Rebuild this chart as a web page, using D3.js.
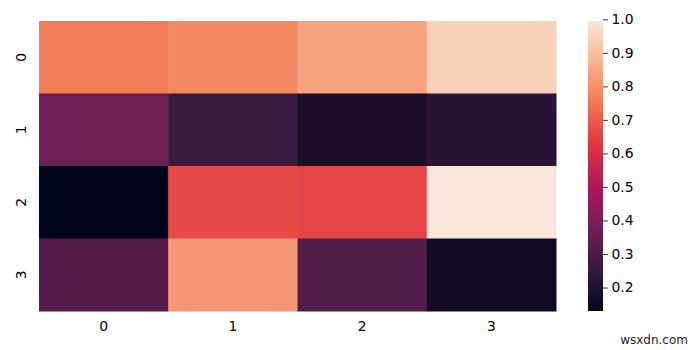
<!DOCTYPE html>
<html>
<head>
<meta charset="utf-8">
<script src="https://cdn.jsdelivr.net/npm/d3@7"></script>
<style>
  body { margin: 0; background: #fff; }
  text { font-family: "DejaVu Sans", sans-serif; }
</style>
</head>
<body>
<svg id="chart" width="700" height="350"></svg>
<script>
// heatmap data (rows x cols)
var rowLabels = ["0", "1", "2", "3"];
var colLabels = ["0", "1", "2", "3"];
var row0 = [0.765, 0.785, 0.84, 0.94];
var row1 = [0.37, 0.265, 0.19, 0.225];
var row2 = [0.13, 0.665, 0.655, 0.995];
var row3 = [0.32, 0.815, 0.31, 0.17];
var cbTicks = [0.2, 0.3, 0.4, 0.5, 0.6, 0.7, 0.8, 0.9, 1.0];

// seaborn "rocket" colormap, sampled
var rocketStops = ["#03051a", "#35193e", "#701f57", "#ad1759", "#e13342", "#f37651", "#f6b48f", "#f9e6d8"];

var rows = [row0, row1, row2, row3];
var cells = [];
rows.forEach(function(r, i) {
	r.forEach(function(v, j) { cells.push({row: i, col: j, value: v}); });
});

var vmin = d3.min(cells, function(d) { return d.value; });
var vmax = d3.max(cells, function(d) { return d.value; });

var rocket = d3.scaleLinear()
	.domain(d3.range(rocketStops.length).map(function(i) { return i / (rocketStops.length - 1); }))
	.range(rocketStops)
	.interpolate(d3.interpolateRgb);
var color = function(v) { return rocket((v - vmin) / (vmax - vmin)); };

var svg = d3.select('#chart');

var x = d3.scaleBand().domain(colLabels).range([39, 556]);
var y = d3.scaleBand().domain(rowLabels).range([21, 311]);

// cells
svg.append('g').selectAll('rect')
	.data(cells)
	.enter()
	.append('rect')
	.attr('x', function(d) { return x(colLabels[d.col]); })
	.attr('y', function(d) { return y(rowLabels[d.row]); })
	.attr('width', x.bandwidth() + 0.5)
	.attr('height', y.bandwidth() + 0.5)
	.attr('fill', function(d) { return color(d.value); });

// x tick labels
svg.append('g').selectAll('text')
	.data(colLabels)
	.enter()
	.append('text')
	.attr('x', function(d) { return x(d) + x.bandwidth() / 2; })
	.attr('y', 331)
	.attr('text-anchor', 'middle')
	.attr('font-size', '13.9px')
	.attr('fill', '#000')
	.text(function(d) { return d; });

// y tick labels, rotated
svg.append('g').selectAll('text')
	.data(rowLabels)
	.enter()
	.append('text')
	.attr('transform', function(d) {
		return 'translate(26,' + (y(d) + y.bandwidth() / 2) + ') rotate(-90)';
	})
	.attr('text-anchor', 'middle')
	.attr('font-size', '13.9px')
	.attr('fill', '#000')
	.text(function(d) { return d; });

// colorbar
var cbX = 588, cbW = 15, cbTop = 21, cbBottom = 311;
var defs = svg.append('defs');
var grad = defs.append('linearGradient')
	.attr('id', 'cbgrad')
	.attr('x1', 0).attr('y1', 1).attr('x2', 0).attr('y2', 0);
grad.selectAll('stop')
	.data(rocketStops)
	.enter()
	.append('stop')
	.attr('offset', function(d, i) { return (i / (rocketStops.length - 1) * 100) + '%'; })
	.attr('stop-color', function(d) { return d; });

svg.append('rect')
	.attr('x', cbX).attr('y', cbTop)
	.attr('width', cbW).attr('height', cbBottom - cbTop)
	.attr('fill', 'url(#cbgrad)');

var cbScale = d3.scaleLinear().domain([vmin, vmax]).range([cbBottom, cbTop]);
var cbAxis = d3.axisRight(cbScale)
	.tickValues(cbTicks)
	.tickFormat(d3.format('.1f'))
	.tickSize(4.9)
	.tickPadding(3.5);

var cbG = svg.append('g')
	.attr('transform', 'translate(' + (cbX + cbW) + ',0)')
	.call(cbAxis);
cbG.select('.domain').remove();
cbG.selectAll('.tick line').attr('stroke', '#000').attr('stroke-width', 0.8);
cbG.selectAll('.tick text')
	.attr('font-family', '"DejaVu Sans", sans-serif')
	.attr('font-size', '13.9px')
	.attr('fill', '#000');

// watermark
svg.append('text')
	.attr('x', 688).attr('y', 344)
	.attr('text-anchor', 'end')
	.attr('font-size', '12px')
	.attr('fill', '#222')
	.text('wsxdn.com');
</script>
</body>
</html>
